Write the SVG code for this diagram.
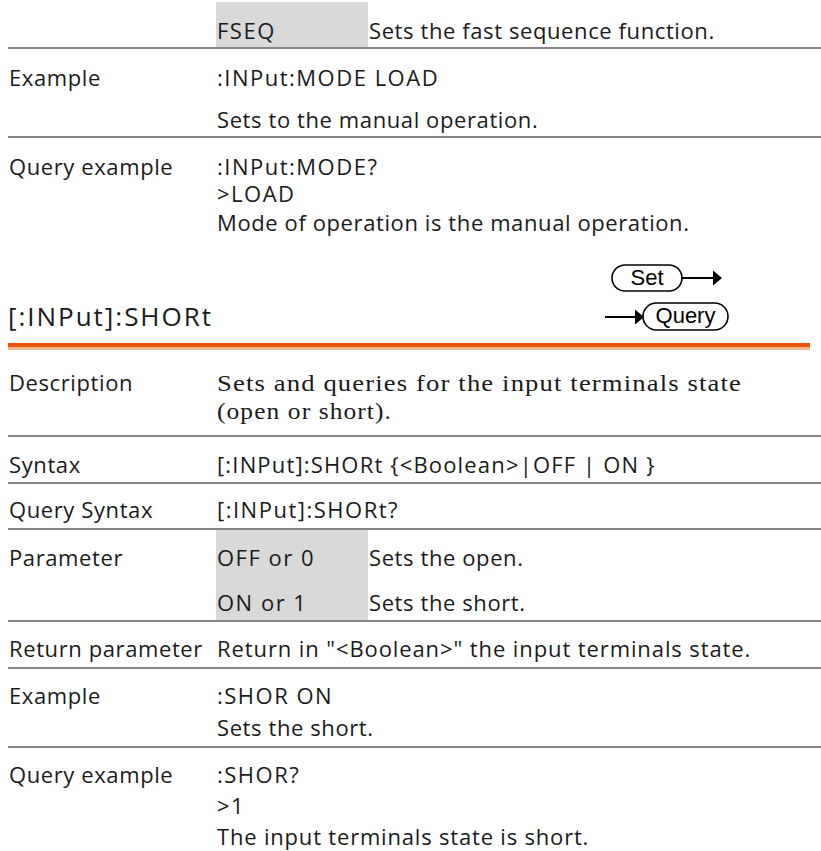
<svg xmlns="http://www.w3.org/2000/svg" width="821" height="851" viewBox="0 0 821 851">
<style>
  text { font-family: "Open Sans", "Liberation Sans", sans-serif; font-size: 22px; fill: #1a1a1a; letter-spacing: 0.6px; }
  .code { letter-spacing: 1.5px; }
  .serif { font-family: "Liberation Serif", "Times New Roman", serif; font-size: 23.5px; letter-spacing: 1px; }
  .title { font-size: 26px; letter-spacing: 1px; }
  .icon { font-family: "Liberation Sans", Arial, sans-serif; font-size: 22px; letter-spacing: 0; fill: #000; }
  .sep { stroke: #868686; stroke-width: 2; }
  .cell { fill: #d9d9d9; }
  .pill { fill: #fff; stroke: #000; stroke-width: 1.6; }
  .arrow { stroke: #000; stroke-width: 2; fill: none; }
  .head { fill: #000; }
</style>

<g id="row-fseq">
  <rect class="cell" x="216" y="2" width="152" height="45"/>
  <text class="code" x="217" y="39">FSEQ</text>
  <text x="369" y="39">Sets the fast sequence function.</text>
</g>

<g id="separators">
  <line class="sep" x1="8" y1="48" x2="821" y2="48"/>
  <line class="sep" x1="8" y1="137" x2="821" y2="137"/>
  <line class="sep" x1="8" y1="436" x2="821" y2="436"/>
  <line class="sep" x1="8" y1="483" x2="821" y2="483"/>
  <line class="sep" x1="8" y1="529" x2="821" y2="529"/>
  <line class="sep" x1="8" y1="621" x2="821" y2="621"/>
  <line class="sep" x1="8" y1="668" x2="821" y2="668"/>
  <line class="sep" x1="8" y1="747" x2="821" y2="747"/>
</g>

<g id="row-example-1">
  <text x="9" y="86">Example</text>
  <text class="code" x="217" y="86">:INPut:MODE LOAD</text>
  <text x="217" y="128">Sets to the manual operation.</text>
</g>

<g id="row-query-example-1">
  <text x="9" y="175">Query example</text>
  <text class="code" x="217" y="175">:INPut:MODE?</text>
  <text class="code" x="217" y="202">&gt;LOAD</text>
  <text x="217" y="231">Mode of operation is the manual operation.</text>
</g>

<g id="set-icon">
  <rect class="pill" x="612" y="265" width="70" height="26" rx="13" ry="13"/>
  <text class="icon" x="647" y="285" text-anchor="middle">Set</text>
  <line class="arrow" x1="682" y1="278" x2="714" y2="278"/>
  <polygon class="head" points="713,270.5 722,278 713,285.5"/>
</g>

<g id="query-icon">
  <line class="arrow" x1="605" y1="317" x2="636" y2="317"/>
  <polygon class="head" points="635,309.5 644,317 635,324.5"/>
  <rect class="pill" x="643" y="303" width="85" height="27" rx="13.5" ry="13.5"/>
  <text class="icon" x="685.5" y="323" text-anchor="middle">Query</text>
</g>

<g id="heading">
  <text class="title" x="8" y="326" textLength="204" lengthAdjust="spacing">[:INPut]:SHORt</text>
  <rect x="8" y="343" width="802" height="4.5" fill="#e9540d"/>
  <rect x="8" y="347.5" width="802" height="2.5" fill="#f6b88a"/>
</g>

<g id="row-description">
  <text x="9" y="391">Description</text>
  <text class="serif" x="217" y="391" textLength="525" lengthAdjust="spacingAndGlyphs">Sets and queries for the input terminals state</text>
  <text class="serif" x="217" y="419" textLength="175" lengthAdjust="spacingAndGlyphs">(open or short).</text>
</g>

<g id="row-syntax">
  <text x="9" y="473">Syntax</text>
  <text x="217" y="473" textLength="438" lengthAdjust="spacing">[:INPut]:SHORt {&lt;Boolean&gt;|OFF | ON }</text>
</g>

<g id="row-query-syntax">
  <text x="9" y="518">Query Syntax</text>
  <text class="code" x="217" y="518">[:INPut]:SHORt?</text>
</g>

<g id="row-parameter">
  <rect class="cell" x="216" y="530" width="152" height="90"/>
  <text x="9" y="566">Parameter</text>
  <text class="code" x="217" y="566">OFF or 0</text>
  <text x="369" y="566">Sets the open.</text>
  <text class="code" x="217" y="611">ON or 1</text>
  <text x="369" y="611">Sets the short.</text>
</g>

<g id="row-return">
  <text x="9" y="657">Return parameter</text>
  <text x="217" y="657" textLength="534" lengthAdjust="spacing">Return in "&lt;Boolean&gt;" the input terminals state.</text>
</g>

<g id="row-example-2">
  <text x="9" y="704">Example</text>
  <text class="code" x="217" y="704">:SHOR ON</text>
  <text x="217" y="736">Sets the short.</text>
</g>

<g id="row-query-example-2">
  <text x="9" y="783">Query example</text>
  <text class="code" x="217" y="783">:SHOR?</text>
  <text class="code" x="217" y="814">&gt;1</text>
  <text x="217" y="845" textLength="372" lengthAdjust="spacing">The input terminals state is short.</text>
</g>
</svg>
